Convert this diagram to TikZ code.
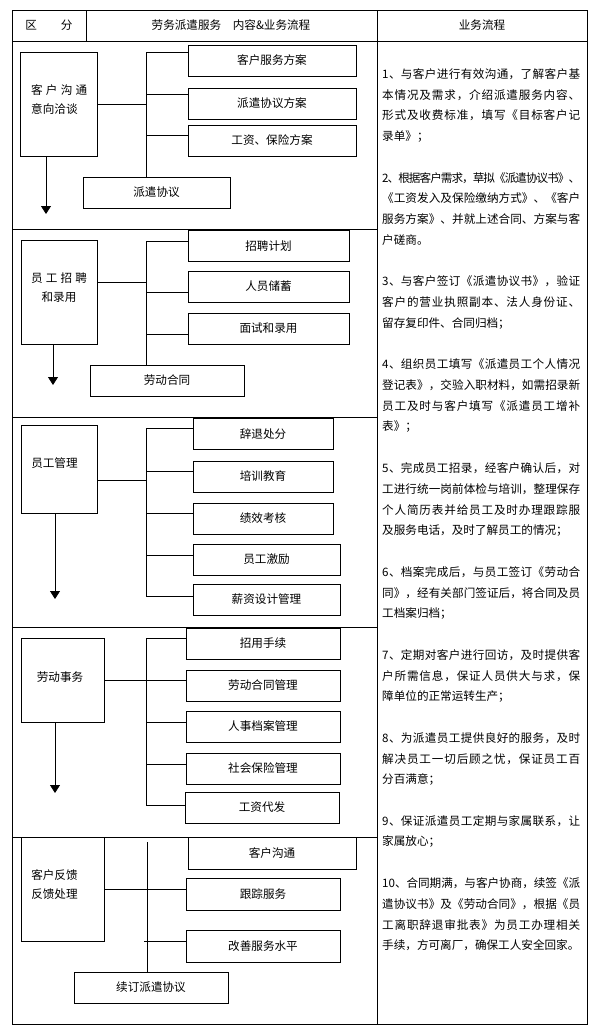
\documentclass[tikz,border=0pt]{standalone}
\usepackage{fontspec}
\newfontfamily\cjk{Noto Sans CJK SC}
\usetikzlibrary{arrows.meta}
\newcommand\kgap{\hspace{3.2pt}}
% one justified line of the right column
\newcommand\jline[1]{\hbox to 198pt{\jfirst#1\relax}}
\def\jfirst#1{#1\jstep}
\def\jstep#1{\ifx\relax#1\else\hskip0pt plus 1fil minus 1pt\relax#1\expandafter\jstep\fi}

\begin{document}
\begin{tikzpicture}[x=1pt,y=-1pt,font=\cjk\fontsize{11.6}{19}\selectfont,
    tbl/.style={line width=0.8pt},
    mbox/.style={draw,line width=0.8pt,inner sep=0pt},
    sbox/.style={draw,line width=0.8pt,minimum height=31pt,inner sep=0pt},
    lnk/.style={line width=0.8pt},
    arr/.style={lnk,-{Triangle[width=10pt,length=8pt]}},
    mtxt/.style={inner sep=0pt,align=center},
    ptxt/.style={anchor=north west,inner sep=0pt,align=left,
      font=\cjk\fontsize{11.6}{20.75}\selectfont}]
  \useasboundingbox (0,0) rectangle (595,1034);

  % table
  \draw[tbl] (12,10) rectangle (587,1024);
  \draw[tbl] (12,41) -- (587,41) (86,10) -- (86,41) (377,10) -- (377,1024);
  \foreach \y in {229,417,627,837} \draw[tbl] (12,\y) -- (377,\y);
  \node (hd1) at (49,25) {区\hspace{24pt}分};
  \node (hd2) at (231,25) {劳务派遣服务　内容\&业务流程};
  \node (hd3) at (482,25) {业务流程};

  % row 1
  \node[mbox,minimum width=77pt,minimum height=104pt] (m1) at (58.5,104) {};
  \node[mtxt,align=left,anchor=west] (m1t) at (31,99.5) {客\kgap 户\kgap 沟\kgap 通\\意向洽谈};
  \foreach \n/\y/\t in {a/60.5/客户服务方案,b/103.5/派遣协议方案,c/140.5/工资、保险方案}
    \node[sbox,minimum width=168pt] (s1\n) at (272,\y) {\t};
  \node[sbox,minimum width=147pt] (d1) at (156.5,192.5) {派遣协议};
  \coordinate (t1) at (146,52);
  \draw[lnk] (t1) -- (t1 |- d1.north);
  \draw[lnk] (m1.east) -- (m1.east -| t1);
  \foreach \n/\y in {a/52,b/94,c/135}
    {\coordinate (q) at (146,\y); \draw[lnk] (q) -- (q -| s1\n.west);}
  \coordinate (e1) at (46,214);
  \draw[arr] (m1.south -| e1) -- (e1);

  % row 2
  \node[mbox,minimum width=76pt,minimum height=104pt] (m2) at (59,292) {};
  \node[mtxt] (m2t) at (59,287.5) {员\kgap 工\kgap 招\kgap 聘\\和录用};
  \foreach \n/\y/\t in {a/246/招聘计划,b/286.5/人员储蓄,c/328.5/面试和录用}
    \node[sbox,minimum width=161pt] (s2\n) at (268.5,\y) {\t};
  \node[sbox,minimum width=154pt] (d2) at (167,380.5) {劳动合同};
  \coordinate (t2) at (146,241);
  \draw[lnk] (t2) -- (t2 |- d2.north);
  \coordinate (k2) at (146,282);
  \draw[lnk] (k2 -| m2.east) -- (k2);
  \foreach \n/\y in {a/241,b/292,c/334}
    {\coordinate (q) at (146,\y); \draw[lnk] (q) -- (q -| s2\n.west);}
  \coordinate (e2) at (53,385);
  \draw[arr] (m2.south -| e2) -- (e2);

  % row 3
  \node[mbox,minimum width=76pt,minimum height=88pt] (m3) at (59,469) {};
  \node[mtxt] (m3t) at (54.5,463) {员工管理};
  \foreach \n/\x/\y/\w/\t in {a/263/434/140/辞退处分,b/263/476.5/140/培训教育,
      c/263/518.5/140/绩效考核,d/266.5/559.5/147/员工激励,e/266.5/599.5/147/薪资设计管理}
    \node[sbox,minimum width=\w pt] (s3\n) at (\x,\y) {\t};
  \coordinate (t3) at (146,428);
  \draw[lnk] (t3) -- (146,596);
  \coordinate (k3) at (146,480);
  \draw[lnk] (k3 -| m3.east) -- (k3);
  \foreach \n/\y in {a/428,b/471,c/513,d/555,e/596}
    {\coordinate (q) at (146,\y); \draw[lnk] (q) -- (q -| s3\n.west);}
  \coordinate (e3) at (55,599);
  \draw[arr] (m3.south -| e3) -- (e3);

  % row 4
  \node[mbox,minimum width=83pt,minimum height=84pt] (m4) at (62.5,680) {};
  \node[mtxt] (m4t) at (60,677) {劳动事务};
  \foreach \n/\x/\y/\t in {a/263/643.5/招用手续,b/263/685.5/劳动合同管理,
      c/263/726.5/人事档案管理,d/263/768.5/社会保险管理,e/262/807.5/工资代发}
    \node[sbox,minimum width=154pt] (s4\n) at (\x,\y) {\t};
  \coordinate (t4) at (146,638);
  \draw[lnk] (t4) -- (146,805);
  \draw[lnk] (m4.east) -- (m4.east -| t4);
  \foreach \n/\y in {a/638,b/680,c/722,d/764,e/805}
    {\coordinate (q) at (146,\y); \draw[lnk] (q) -- (q -| s4\n.west);}
  \coordinate (e4) at (55,793);
  \draw[arr] (m4.south -| e4) -- (e4);

  % row 5
  \node[mbox,minimum width=83pt,minimum height=104pt] (m5) at (62.5,889) {};
  \node[mtxt] (m5t) at (54.5,884.5) {客户反馈\\反馈处理};
  \node[sbox,minimum width=168pt,minimum height=32pt] (s5a) at (272,853) {客户沟通};
  \node[sbox,minimum width=154pt,minimum height=32pt] (s5b) at (263,894) {跟踪服务};
  \node[sbox,minimum width=154pt,minimum height=32pt] (s5c) at (263,946) {改善服务水平};
  \node[sbox,minimum width=154pt] (d5) at (151,987.5) {续订派遣协议};
  \coordinate (t5) at (147,842);
  \draw[lnk] (t5) -- (t5 |- d5.north);
  \draw[lnk] (m5.east) -- (m5.east -| s5b.west);
  \coordinate (k5) at (144,941);
  \draw[lnk] (k5) -- (k5 -| s5c.west);

  % right column
  \node[ptxt] (p1) at (382,68.2) {\jline{1、与客户进行有效沟通，了解客户基}\\
    \jline{本情况及需求，介绍派遣服务内容、}\\
    \jline{形式及收费标准，填写《目标客户记}\\录单》；};
  \node[ptxt] (p2) at (382,{68.2+20.75*5}) {\jline{2、根据客户需求，草拟《派遣协议书》、}\\
    \jline{《工资发入及保险缴纳方式》、《客户}\\
    \jline{服务方案》、并就上述合同、方案与客}\\户磋商。};
  \node[ptxt] (p3) at (382,{68.2+20.75*10}) {\jline{3、与客户签订《派遣协议书》，验证}\\
    \jline{客户的营业执照副本、法人身份证、}\\留存复印件、合同归档；};
  \node[ptxt] (p4) at (382,{68.2+20.75*14}) {\jline{4、组织员工填写《派遣员工个人情况}\\
    \jline{登记表》，交验入职材料，如需招录新}\\
    \jline{员工及时与客户填写《派遣员工增补}\\表》；};
  \node[ptxt] (p5) at (382,{68.2+20.75*19}) {\jline{5、完成员工招录，经客户确认后，对}\\
    \jline{工进行统一岗前体检与培训，整理保存}\\
    \jline{个人简历表并给员工及时办理跟踪服}\\及服务电话，及时了解员工的情况；};
  \node[ptxt] (p6) at (382,{68.2+20.75*24}) {\jline{6、档案完成后，与员工签订《劳动合}\\
    \jline{同》，经有关部门签证后，将合同及员}\\工档案归档；};
  \node[ptxt] (p7) at (382,{68.2+20.75*28}) {\jline{7、定期对客户进行回访，及时提供客}\\
    \jline{户所需信息，保证人员供大与求，保}\\障单位的正常运转生产；};
  \node[ptxt] (p8) at (382,{68.2+20.75*32}) {\jline{8、为派遣员工提供良好的服务，及时}\\
    \jline{解决员工一切后顾之忧，保证员工百}\\分百满意；};
  \node[ptxt] (p9) at (382,{68.2+20.75*36}) {\jline{9、保证派遣员工定期与家属联系，让}\\家属放心；};
  \node[ptxt] (p10) at (382,{68.2+20.75*39}) {\jline{10、合同期满，与客户协商，续签《派}\\
    \jline{遣协议书》及《劳动合同》，根据《员}\\
    \jline{工离职辞退审批表》为员工办理相关}\\手续，方可离厂，确保工人安全回家。};
\end{tikzpicture}
\end{document}
